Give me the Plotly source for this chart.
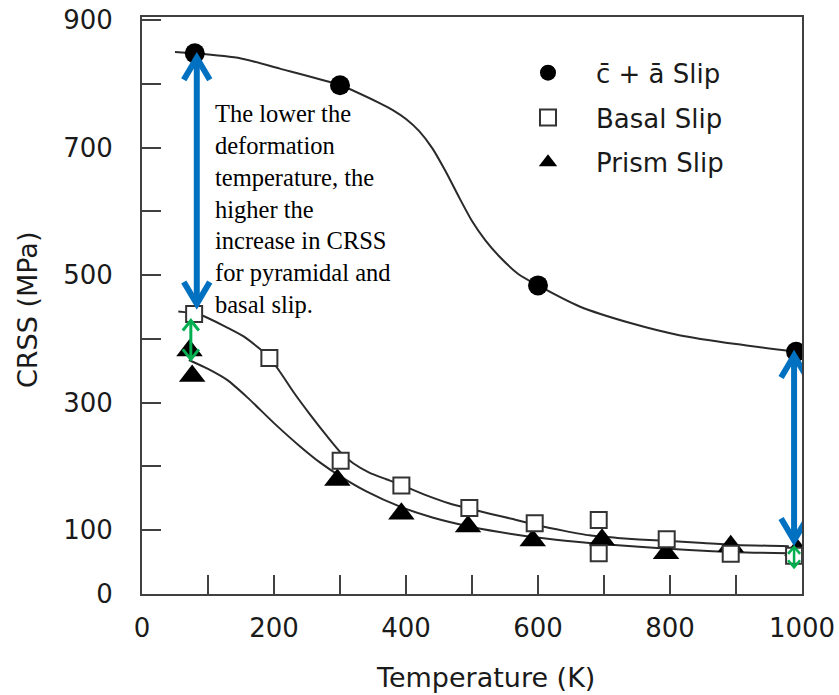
import plotly.graph_objects as go

# ---------------- data ----------------
ca_T = [80, 300, 600, 991]
ca_V = [848, 798, 484, 380]

basal_T = [79, 193, 301, 393, 496, 595, 692, 692, 795, 892, 988]
basal_V = [439, 370, 209, 170, 135, 111, 116, 64, 86, 63, 60]

prism_T = [72, 76, 296, 393, 494, 592, 697, 794, 892, 993]
prism_V = [382, 342, 179, 126, 106, 84, 85, 64, 75, 69]

# fitted curves as drawn in the figure
ca_fit_T = [50, 80, 150, 209, 300, 360, 380, 400, 420, 440, 460, 480, 500, 520, 540, 570,
            600, 663, 740, 814, 900, 991]
ca_fit_V = [850, 848, 840, 824, 798, 770, 759, 745, 726, 699, 663, 623, 585, 555, 531, 502,
            484, 451, 425, 406, 392, 380]

basal_fit_T = [55, 80, 93, 154, 193, 210, 230, 255, 280, 301, 320, 345, 370, 393, 430, 466,
               500, 527, 560, 602, 640, 678, 720, 753, 800, 850, 900, 980]
basal_fit_V = [443, 440, 436, 404, 371, 347, 316, 281, 248, 222, 205, 190, 180, 171, 155, 142,
               133, 126, 118, 107, 99, 92, 88, 85.5, 83, 80, 77, 75]

prism_fit_T = [71, 100, 130, 160, 200, 240, 270, 300, 340, 391, 440, 500, 560, 627, 700, 753,
               829, 900, 980]
prism_fit_V = [367, 353, 335, 308, 268, 231, 206, 185, 161, 137, 120, 105, 94, 85, 78, 74,
               69, 65.5, 64]

x_tick_vals = list(range(0, 1001, 100))
x_tick_text = ["0", "", "200", "", "400", "", "600", "", "800", "", "1000"]
y_tick_vals = list(range(0, 901, 100))
y_tick_text = ["0", "100", "", "300", "", "500", "", "700", "", "900"]

# annotation arrows: (T, V_top, V_bottom)
blue_arrows = [(83, 845, 451), (988, 378, 80)]
green_arrows = [(74, 431, 366), (988, 75, 41)]

note_text = ("The lower the<br>deformation<br>temperature, the<br>higher the<br>"
             "increase in CRSS<br>for pyramidal and<br>basal slip.")

# ---------------- layout geometry ----------------
W, H = 839, 695
ML, MR, MT, MB = 142, 37, 17, 101
X_RANGE = [0, 1000]
Y_RANGE = [0, 905]
PW = W - ML - MR
PH = H - MT - MB
sx = PW / (X_RANGE[1] - X_RANGE[0])
sy = PH / (Y_RANGE[1] - Y_RANGE[0])

SANS = "DejaVu Sans"
LINE_COL = "#2a2a2a"

fig = go.Figure()

for xs, ys in [(ca_fit_T, ca_fit_V), (basal_fit_T, basal_fit_V), (prism_fit_T, prism_fit_V)]:
    fig.add_trace(go.Scatter(x=xs, y=ys, mode="lines", showlegend=False, hoverinfo="skip",
                             line=dict(color=LINE_COL, width=2, shape="spline", smoothing=0.6)))

fig.add_trace(go.Scatter(x=prism_T, y=prism_V, mode="markers", name="Prism Slip",
                         legendgroup="p", legendrank=3,
                         marker=dict(symbol="triangle-up", size=23, color="black",
                                     line=dict(width=0))))
fig.add_trace(go.Scatter(x=basal_T, y=basal_V, mode="markers", name="Basal Slip",
                         legendgroup="b", legendrank=2,
                         marker=dict(symbol="square", size=16, color="white",
                                     line=dict(color="#333333", width=2))))
fig.add_trace(go.Scatter(x=ca_T, y=ca_V, mode="markers", name="c\u0304 + \u0101 Slip",
                         legendgroup="c", legendrank=1,
                         marker=dict(symbol="circle", size=20, color="black",
                                     line=dict(width=0))))

shapes = []


def double_arrow(T, vt, vb, color, lw, hw, hl):
    shapes.append(dict(type="line", xref="x", yref="y", x0=T, x1=T, y0=vt, y1=vb,
                       line=dict(color=color, width=lw)))
    dx = hw / sx
    dy = hl / sy
    shapes.append(dict(type="path", xref="x", yref="y",
                       path=f"M {T-dx},{vt-dy} L {T},{vt} L {T+dx},{vt-dy}",
                       line=dict(color=color, width=lw)))
    shapes.append(dict(type="path", xref="x", yref="y",
                       path=f"M {T-dx},{vb+dy} L {T},{vb} L {T+dx},{vb+dy}",
                       line=dict(color=color, width=lw)))


for T, vt, vb in blue_arrows:
    double_arrow(T, vt - 4, vb + 4, "#0070C0", 6, 13, 22)
double_arrow(green_arrows[0][0], green_arrows[0][1] - 2, green_arrows[0][2] + 2, "#00B050", 3, 8, 10)
double_arrow(green_arrows[1][0], green_arrows[1][1] - 1, green_arrows[1][2] + 1, "#00B050", 2.5, 6, 7)

fig.update_layout(
    width=W, height=H,
    margin=dict(l=ML, r=MR, t=MT, b=MB, autoexpand=False),
    paper_bgcolor="white", plot_bgcolor="white",
    font=dict(family=SANS, size=26, color="#1a1a1a"),
    shapes=shapes,
    showlegend=True,
    legend=dict(x=(500 - ML) / PW, y=0.944, xanchor="left", yanchor="top",
                bgcolor="rgba(0,0,0,0)", borderwidth=0, itemwidth=86,
                font=dict(family=SANS, size=26, color="#1a1a1a"),
                tracegroupgap=8, itemsizing="trace"),
    annotations=[
        dict(x=108, y=604, xref="x", yref="y", text=note_text, showarrow=False,
             xanchor="left", yanchor="middle", align="left",
             font=dict(family="Liberation Serif", size=24.5, color="black")),
        dict(x=(485 - ML) / PW, y=-(677 - (MT + PH)) / PH, xref="paper", yref="paper",
             text="Temperature (K)", showarrow=False, xanchor="center", yanchor="middle",
             font=dict(family=SANS, size=27, color="#1a1a1a")),
        dict(x=-(ML - 28) / PW, y=(MT + PH - 310) / PH, xref="paper", yref="paper",
             text="CRSS (MPa)", showarrow=False, xanchor="center", yanchor="middle",
             textangle=-90, font=dict(family=SANS, size=27, color="#1a1a1a")),
    ],
)

fig.update_xaxes(range=X_RANGE, tickmode="array", tickvals=x_tick_vals, ticktext=x_tick_text,
                 ticks="inside", ticklen=19, tickwidth=2, tickcolor="#404040",
                 showline=True, linewidth=2, linecolor="#404040", mirror=True,
                 showgrid=False, zeroline=False, ticklabelstandoff=10, automargin=False)
fig.update_yaxes(range=Y_RANGE, tickmode="array", tickvals=y_tick_vals, ticktext=y_tick_text,
                 ticks="inside", ticklen=19, tickwidth=2, tickcolor="#404040",
                 showline=True, linewidth=2, linecolor="#404040", mirror=True,
                 showgrid=False, zeroline=False, ticklabelstandoff=22, automargin=False)

fig.write_html("out.html")
